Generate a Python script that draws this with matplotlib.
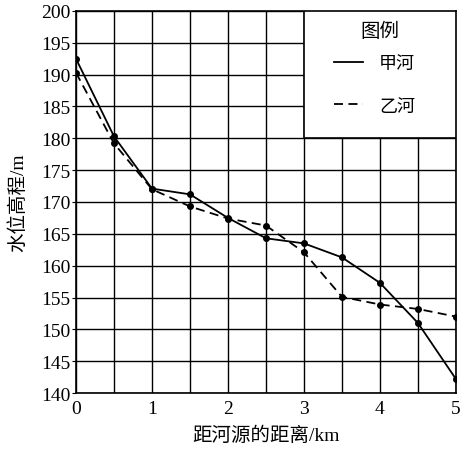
import matplotlib
matplotlib.use('Agg')
import matplotlib.pyplot as plt
from matplotlib.patches import Rectangle
from matplotlib.ticker import MultipleLocator

plt.rcParams['font.family'] = ['Liberation Serif', 'Noto Sans CJK SC']

# distance from source (km)
dist = [0, 0.5, 1, 1.5, 2, 2.5, 3, 3.5, 4, 4.5, 5]
# water level elevation (m)
jia = [192.5, 180.3, 172.1, 171.2, 167.5, 164.3, 163.5, 161.3, 157.3, 151.0, 142.2]
yi = [190.3, 179.2, 172.0, 169.3, 167.4, 166.3, 162.1, 155.1, 153.9, 153.2, 152.0]

fig = plt.figure(figsize=(4.7, 4.52), dpi=100)
ax = fig.add_axes([0.1617, 0.1283, 0.8083, 0.8452])

ax.plot(dist, jia, color='black', linestyle='-', linewidth=1.3,
        marker='o', markersize=4, label='甲河', zorder=3)
ax.plot(dist, yi, color='black', linestyle=(0, (5, 3)), linewidth=1.3,
        marker='o', markersize=4, label='乙河', zorder=3)

ax.set_xlim(0, 5)
ax.set_ylim(140, 200)
ax.xaxis.set_major_locator(MultipleLocator(1))
ax.xaxis.set_minor_locator(MultipleLocator(0.5))
ax.yaxis.set_major_locator(MultipleLocator(5))
ax.grid(True, which='both', color='black', linewidth=1.0)
ax.set_axisbelow(True)
ax.tick_params(axis='x', which='both', length=0, labelsize=14, pad=5)
ax.tick_params(axis='y', length=3, labelsize=14, pad=1)
for s in ax.spines.values():
    s.set_linewidth(1.2)

ax.set_xlabel('距河源的距离/km', fontsize=14, labelpad=6)
ax.set_ylabel('水位高程/m', fontsize=14, labelpad=10)

# legend box over the top-right grid cells
ax.add_patch(Rectangle((3, 180), 2, 20, facecolor='white', edgecolor='black',
                       linewidth=1.2, zorder=4))
ax.text(4.0, 196.8, '图例', fontsize=14, ha='center', va='center', zorder=6)
leg = ax.legend(loc='upper center', bbox_to_anchor=(3.93, 194.2),
                bbox_transform=ax.transData, frameon=False, fontsize=13,
                handlelength=1.6, handletextpad=0.9,
                labelspacing=1.42, borderaxespad=0)
leg.set_zorder(5)
for h in leg.legend_handles:
    h.set_marker('')

fig.savefig('out.png', dpi=100)
